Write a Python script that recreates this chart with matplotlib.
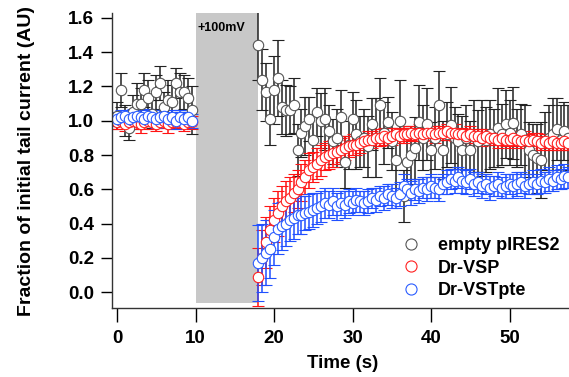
import numpy as np
import matplotlib
matplotlib.use("Agg")
import matplotlib.pyplot as plt
from matplotlib.lines import Line2D

plt.rcParams['font.family'] = ['Liberation Sans', 'DejaVu Sans']
plt.rcParams['font.weight'] = 'bold'

# sampling: 0.5 s before the pulse, 0.5 s after it
t_pre = np.arange(0, 10, 0.5)
t_post = np.arange(18, 58, 0.5)
pulse_start, pulse_end = 10, 18
labels = ['empty pIRES2', 'Dr-VSP', 'Dr-VSTpte']

empty_pre = [1.03, 1.18, 1.00, 0.96, 1.05, 1.10, 1.10, 1.18, 1.13, 1.04,
             1.17, 1.22, 1.08, 1.12, 1.11, 1.22, 1.17, 1.17, 1.13, 1.06]
empty_pre_err = [0.08, 0.10, 0.09, 0.07, 0.10, 0.12, 0.09, 0.10, 0.11, 0.08,
                 0.10, 0.10, 0.09, 0.12, 0.10, 0.09, 0.11, 0.10, 0.12, 0.14]
empty_post = [1.44, 1.24, 1.17, 1.01, 1.18, 1.25, 1.08, 1.06, 1.06, 1.09,
              0.83, 0.93, 0.97, 1.01, 0.89, 1.05, 1.00, 1.01, 0.94, 0.88,
              0.90, 1.02, 0.76, 0.86, 1.01, 0.92, 0.88, 0.90, 0.85, 0.98,
              0.90, 1.09, 0.93, 0.99, 0.88, 0.77, 1.00, 0.56, 0.76, 0.80,
              0.84, 0.99, 0.90, 0.98, 0.83, 0.90, 1.09, 0.83, 0.92, 0.975,
              0.90, 0.88, 0.83, 0.90, 0.83, 0.91, 0.88, 0.90, 0.89, 0.92,
              0.90, 0.96, 0.92, 0.98, 0.93, 0.985, 0.90, 0.92, 0.89, 0.83,
              0.80, 0.78, 0.77, 0.88, 0.90, 0.92, 0.95, 0.89, 0.94, 0.90]
empty_post_err = [0.20, 0.18, 0.17, 0.15, 0.20, 0.22, 0.16, 0.15, 0.14, 0.16,
                  0.15, 0.14, 0.17, 0.13, 0.15, 0.14, 0.16, 0.18, 0.15, 0.13,
                  0.17, 0.16, 0.15, 0.14, 0.16, 0.20, 0.15, 0.17, 0.18, 0.15,
                  0.23, 0.16, 0.18, 0.15, 0.17, 0.19, 0.24, 0.15, 0.20, 0.17,
                  0.18, 0.22, 0.19, 0.21, 0.16, 0.18, 0.20, 0.17, 0.19, 0.22,
                  0.18, 0.16, 0.20, 0.19, 0.17, 0.21, 0.18, 0.22, 0.19, 0.20,
                  0.17, 0.23, 0.18, 0.20, 0.19, 0.21, 0.17, 0.18, 0.20, 0.16,
                  0.18, 0.20, 0.22, 0.17, 0.19, 0.21, 0.18, 0.20, 0.17, 0.19]

vsp_pre = [0.99, 1.00, 0.98, 0.99, 1.00, 0.99, 0.98, 0.99, 1.00, 0.99,
           0.98, 0.99, 1.00, 0.98, 0.99, 0.99, 1.00, 0.98, 0.99, 0.99]
vsp_pre_err = [0.04, 0.03, 0.04, 0.04, 0.03, 0.04, 0.05, 0.04, 0.03, 0.04,
               0.04, 0.03, 0.04, 0.05, 0.04, 0.03, 0.04, 0.04, 0.03, 0.04]
vsp_post = [0.09, 0.20, 0.29, 0.36, 0.42, 0.46, 0.50, 0.53, 0.55, 0.58,
            0.60, 0.64, 0.67, 0.71, 0.73, 0.75, 0.77, 0.79, 0.80, 0.81,
            0.82, 0.83, 0.84, 0.85, 0.86, 0.86, 0.87, 0.88, 0.89, 0.89,
            0.90, 0.90, 0.91, 0.90, 0.91, 0.92, 0.91, 0.92, 0.92, 0.93,
            0.92, 0.93, 0.92, 0.93, 0.93, 0.92, 0.93, 0.93, 0.94, 0.93,
            0.93, 0.92, 0.92, 0.91, 0.92, 0.91, 0.91, 0.90, 0.91, 0.90,
            0.90, 0.89, 0.90, 0.89, 0.89, 0.90, 0.89, 0.88, 0.89, 0.88,
            0.89, 0.88, 0.87, 0.88, 0.87, 0.88, 0.87, 0.87, 0.88, 0.87]
vsp_post_err = [0.17, 0.16, 0.15, 0.14, 0.13, 0.13, 0.12, 0.12, 0.12, 0.11,
                0.11, 0.11, 0.10, 0.10, 0.09, 0.09, 0.09, 0.08, 0.08, 0.08,
                0.07, 0.07, 0.07, 0.06, 0.06, 0.06, 0.06, 0.05, 0.05, 0.05,
                0.05, 0.05, 0.05, 0.04, 0.05, 0.04, 0.04, 0.05, 0.04, 0.04,
                0.04, 0.05, 0.04, 0.04, 0.04, 0.05, 0.04, 0.04, 0.04, 0.04,
                0.05, 0.04, 0.04, 0.04, 0.05, 0.04, 0.04, 0.05, 0.04, 0.04,
                0.04, 0.05, 0.04, 0.04, 0.05, 0.04, 0.04, 0.04, 0.05, 0.04,
                0.04, 0.05, 0.04, 0.04, 0.04, 0.05, 0.04, 0.04, 0.05, 0.04]

vst_pre = [1.01, 1.02, 1.03, 1.01, 1.02, 1.03, 1.02, 1.01, 1.03, 1.02,
           1.01, 1.02, 1.03, 1.01, 1.02, 1.00, 1.02, 1.01, 1.02, 1.00]
vst_pre_err = [0.04, 0.04, 0.03, 0.04, 0.05, 0.04, 0.04, 0.03, 0.04, 0.04,
               0.05, 0.04, 0.03, 0.04, 0.04, 0.05, 0.04, 0.04, 0.03, 0.04]
vst_post = [0.17, 0.20, 0.23, 0.25, 0.32, 0.37, 0.385, 0.40, 0.42, 0.43,
            0.45, 0.45, 0.46, 0.47, 0.48, 0.49, 0.50, 0.52, 0.51, 0.53,
            0.50, 0.52, 0.51, 0.53, 0.52, 0.54, 0.53, 0.52, 0.53, 0.55,
            0.54, 0.56, 0.55, 0.57, 0.56, 0.55, 0.57, 0.62, 0.60, 0.58,
            0.60, 0.59, 0.61, 0.60, 0.62, 0.61, 0.60, 0.63, 0.64, 0.66,
            0.65, 0.67, 0.65, 0.64, 0.66, 0.63, 0.64, 0.62, 0.63, 0.61,
            0.62, 0.63, 0.61, 0.62, 0.63, 0.62, 0.63, 0.64, 0.62, 0.63,
            0.64, 0.63, 0.65, 0.64, 0.66, 0.65, 0.67, 0.66, 0.68, 0.67]
vst_post_err = [0.22, 0.20, 0.19, 0.17, 0.16, 0.15, 0.14, 0.13, 0.12, 0.12,
                0.11, 0.11, 0.10, 0.10, 0.10, 0.09, 0.09, 0.09, 0.08, 0.08,
                0.08, 0.07, 0.08, 0.07, 0.07, 0.07, 0.06, 0.07, 0.07, 0.06,
                0.07, 0.06, 0.07, 0.06, 0.07, 0.06, 0.07, 0.07, 0.06, 0.07,
                0.06, 0.07, 0.06, 0.07, 0.07, 0.06, 0.07, 0.06, 0.07, 0.06,
                0.07, 0.06, 0.07, 0.07, 0.06, 0.07, 0.06, 0.07, 0.06, 0.07,
                0.06, 0.07, 0.06, 0.07, 0.06, 0.07, 0.07, 0.06, 0.07, 0.06,
                0.07, 0.06, 0.07, 0.06, 0.07, 0.06, 0.07, 0.06, 0.07, 0.06]

series = [
    (empty_pre, empty_pre_err, empty_post, empty_post_err, '#222222', '#555555'),
    (vsp_pre, vsp_pre_err, vsp_post, vsp_post_err, '#ff1414', '#ff2020'),
    (vst_pre, vst_pre_err, vst_post, vst_post_err, '#2050ff', '#2a5cff'),
]

fig = plt.figure(figsize=(5.69, 3.77), dpi=100)
ax = fig.add_axes([112 / 569, 69 / 377, 457 / 569, 295 / 377])

ax.fill_between([pulse_start, pulse_end], -0.065, 1.7, color='#c8c8c8', lw=0, zorder=0)
ax.text(pulse_start + 0.25, 1.54, '+100mV', fontsize=9, fontweight='bold',
        va='center', ha='left')

for pre, pre_err, post, post_err, bar_c, mark_c in series:
    t = np.concatenate([t_pre, t_post])
    y = np.concatenate([pre, post])
    e = np.concatenate([pre_err, post_err])
    ax.errorbar(t, y, yerr=e, fmt='o', ms=7.5, mfc='white', mec=mark_c, mew=0.8,
                ecolor=bar_c, elinewidth=1.1, capsize=4, capthick=1.1)

ax.set_xlim(-0.64, 57.58)
ax.set_ylim(-0.093, 1.629)
ax.set_xticks([0, 10, 20, 30, 40, 50])
ax.set_yticks(np.arange(0, 1.61, 0.2))
ax.yaxis.set_major_formatter(plt.FormatStrFormatter('%.1f'))
ax.tick_params(axis='x', length=10, width=1, pad=6, labelsize=13.5)
ax.tick_params(axis='y', length=8, width=1, pad=5, labelsize=13.5)
for s in ['top', 'right']:
    ax.spines[s].set_visible(False)
for s in ['left', 'bottom']:
    ax.spines[s].set_linewidth(1.0)
    ax.spines[s].set_color('#333333')

ax.set_xlabel('Time (s)', fontsize=13.5, fontweight='bold')
ax.set_ylabel('Fraction of initial tail current (AU)', fontsize=14,
              fontweight='bold')
ax.xaxis.set_label_coords(0.505, -0.158)
ax.yaxis.set_label_coords(-0.168, 0.5)

handles = [Line2D([], [], ls='none', marker='o', ms=8, mfc='white', mec=c[5], mew=0.8)
           for c in series]
ax.legend(handles, labels, loc='upper left', bbox_to_anchor=(0.615, 0.27),
          frameon=False, handlelength=1.0, handletextpad=1.0,
          labelspacing=0.3, borderpad=0, prop={'weight': 'bold', 'size': 13})

fig.savefig('out.png', dpi=100)
